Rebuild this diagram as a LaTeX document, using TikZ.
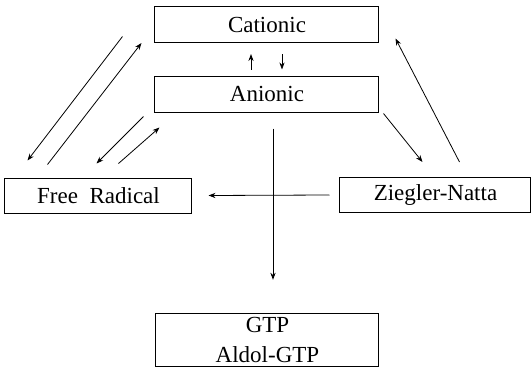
\documentclass[tikz,border=0pt]{standalone}
\usepackage{fontspec}
\setmainfont{Liberation Serif}
\usetikzlibrary{arrows.meta, positioning}

\begin{document}
\begin{tikzpicture}[
    % one unit = one pixel of the 532x386 page, y runs downwards
    x=0.5pt, y=-0.5pt,
    method/.style={
        rectangle, draw, line width=0.5pt, inner sep=2pt,
        text centered, align=center,
        font=\fontsize{11.5}{12.5}\selectfont
    },
    arrow/.style={-{Stealth[length=3.5pt,width=2.6pt]}, line width=0.4pt}
]
  \useasboundingbox (0,0) rectangle (532,386);

  % Top: ionic methods
  \node[method, minimum width=112pt, minimum height=18pt] (cationic) at (267,24.5) {Cationic};
  \node[method, minimum width=112pt, minimum height=18pt] (anionic) at (267,94) {Anionic};

  % Middle row
  \node[method, minimum width=93.5pt, minimum height=17.5pt] (radical) at (98.5,195.5) {Free\ \ Radical};
  \node[method, minimum width=95.5pt, minimum height=17.5pt] (ziegler) at (435.5,195) {Ziegler-Natta};

  % Bottom: group transfer
  \node[method, minimum width=111.5pt, minimum height=26pt] (gtp) at (267.5,340) {GTP\\[2.5pt]Aldol-GTP};

  % Cationic <-> Anionic
  \draw[arrow] ([shift={(-16,-6)}]anionic.north) -- ([shift={(-16,11)}]cationic.south);
  \draw[arrow] ([shift={(15,11)}]cationic.south) -- ([shift={(15,-6)}]anionic.north);

  % Cationic <-> Free Radical
  \draw[arrow] ([shift={(-32,-6.5)}]cationic.south west) -- ([shift={(23,-17)}]radical.north west);
  \draw[arrow] ([shift={(43,-13)}]radical.north west) -- ([shift={(-13,0)}]cationic.south west);

  % Anionic <-> Free Radical
  \draw[arrow] ([shift={(-11,4)}]anionic.south west) -- ([shift={(92,-14)}]radical.north west);
  \draw[arrow] ([shift={(114,-14)}]radical.north west) -- ([shift={(5,15)}]anionic.south west);

  % Ziegler-Natta links
  \draw[arrow] ([shift={(4,1)}]anionic.south east) -- ([shift={(83,-15)}]ziegler.north west);
  \draw[arrow] ([shift={(120,-15)}]ziegler.north west) -- ([shift={(16,-4.5)}]cationic.south east);

  % Crossing arrows
  \draw[arrow] ([shift={(-10,0)}]ziegler.west) -- ([shift={(16,0)}]radical.east);
  \draw[arrow] ([shift={(6,16)}]anionic.south) -- ([shift={(5.5,-33)}]gtp.north);

\end{tikzpicture}
\end{document}
